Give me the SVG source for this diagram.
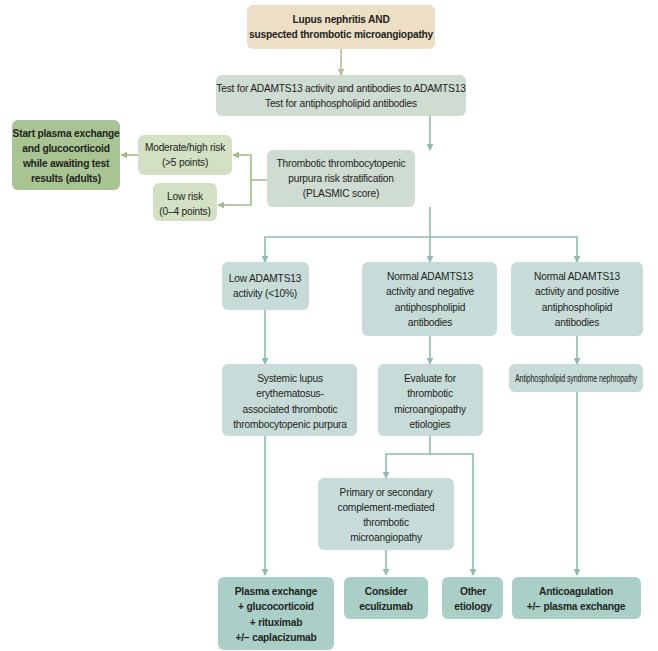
<svg xmlns="http://www.w3.org/2000/svg" width="658" height="651" viewBox="0 0 658 651">
<defs>
<style>
text{font-family:"Liberation Sans",Arial,sans-serif;font-size:10.2px;letter-spacing:-0.2px;fill:#231f20;text-anchor:middle}
.b{font-weight:bold}
.tan{fill:#ecdfc6}.grey{fill:#cfdcd2}.lg{fill:#d3e0c3}.dg{fill:#a9c493}.tl{fill:#c7dcd9}.td{fill:#a9cfc7}
.c{fill:none;stroke:#8dbdb3;stroke-width:1.6}
.cg{fill:none;stroke:#9dbd86;stroke-width:1.6}
.ct{fill:none;stroke:#c2b59c;stroke-width:1.6}
</style>
<marker id="a" viewBox="0 0 10 10" refX="9" refY="5" markerWidth="7" markerHeight="7" orient="auto" markerUnits="userSpaceOnUse"><path d="M0,0L10,5L0,10z" fill="#8dbdb3"/></marker>
<marker id="ag" viewBox="0 0 10 10" refX="9" refY="5" markerWidth="7" markerHeight="7" orient="auto" markerUnits="userSpaceOnUse"><path d="M0,0L10,5L0,10z" fill="#9dbd86"/></marker>
<marker id="at" viewBox="0 0 10 10" refX="9" refY="5" markerWidth="7" markerHeight="7" orient="auto" markerUnits="userSpaceOnUse"><path d="M0,0L10,5L0,10z" fill="#c2b59c"/></marker>
</defs>
<rect width="658" height="651" fill="#fff"/>
<g id="connectors">
<path class="ct" d="M341,49V75" marker-end="url(#at)"/>
<path class="c" d="M430,116V150" marker-end="url(#a)"/>
<path class="cg" d="M267,180H251V155H233" marker-end="url(#ag)"/>
<path class="cg" d="M251,180V205H218" marker-end="url(#ag)"/>
<path class="cg" d="M138,155H121" marker-end="url(#ag)"/>
<path class="c" d="M430,207V237H265V262" marker-end="url(#a)"/>
<path class="c" d="M430,237V262" marker-end="url(#a)"/>
<path class="c" d="M430,237H577V262" marker-end="url(#a)"/>
<path class="c" d="M265,310V364" marker-end="url(#a)"/>
<path class="c" d="M430,336V364" marker-end="url(#a)"/>
<path class="c" d="M577,336V364" marker-end="url(#a)"/>
<path class="c" d="M265,436V575" marker-end="url(#a)"/>
<path class="c" d="M430,436V454H386V478" marker-end="url(#a)"/>
<path class="c" d="M430,454H473V575" marker-end="url(#a)"/>
<path class="c" d="M386,550V575" marker-end="url(#a)"/>
<path class="c" d="M577,392V575" marker-end="url(#a)"/>
</g>
<g id="n1"><rect class="tan" x="247" y="5" width="188" height="44" rx="6"/><text class="b" x="341" y="23">Lupus nephritis AND</text><text class="b" x="341" y="38">suspected thrombotic microangiopathy</text></g>
<g id="n2"><rect class="grey" x="216" y="75" width="250" height="41" rx="6"/><text x="341" y="92">Test for ADAMTS13 activity and antibodies to ADAMTS13</text><text x="341" y="107">Test for antiphospholipid antibodies</text></g>
<g id="n3"><rect class="grey" x="267" y="150" width="148" height="57" rx="6"/><text x="341" y="167">Thrombotic thrombocytopenic</text><text x="341" y="182">purpura risk stratification</text><text x="341" y="197">(PLASMIC score)</text></g>
<g id="n4"><rect class="lg" x="138" y="135" width="94" height="40" rx="6"/><text x="185" y="151">Moderate/high risk</text><text x="185" y="166">(&gt;5 points)</text></g>
<g id="n5"><rect class="lg" x="153" y="183" width="64" height="38" rx="6"/><text x="185" y="200">Low risk</text><text x="185" y="215">(0–4 points)</text></g>
<g id="n6"><rect class="dg" x="12" y="120" width="108" height="70" rx="6"/><text class="b" x="66" y="137">Start plasma exchange</text><text class="b" x="66" y="152">and glucocorticoid</text><text class="b" x="66" y="167">while awaiting test</text><text class="b" x="66" y="182">results (adults)</text></g>
<g id="n7"><rect class="tl" x="222" y="262" width="87" height="48" rx="6"/><text x="265" y="282">Low ADAMTS13</text><text x="265" y="297">activity (&lt;10%)</text></g>
<g id="n8"><rect class="tl" x="362" y="262" width="135" height="74" rx="6"/><text x="430" y="280">Normal ADAMTS13</text><text x="430" y="295">activity and negative</text><text x="430" y="311">antiphospholipid</text><text x="430" y="326">antibodies</text></g>
<g id="n9"><rect class="tl" x="511" y="262" width="132" height="74" rx="6"/><text x="577" y="280">Normal ADAMTS13</text><text x="577" y="295">activity and positive</text><text x="577" y="311">antiphospholipid</text><text x="577" y="326">antibodies</text></g>
<g id="n10"><rect class="tl" x="222" y="364" width="135" height="72" rx="6"/><text x="290" y="382">Systemic lupus</text><text x="290" y="397">erythematosus-</text><text x="290" y="413">associated thrombotic</text><text x="290" y="428">thrombocytopenic purpura</text></g>
<g id="n11"><rect class="tl" x="378" y="364" width="105" height="72" rx="6"/><text x="430" y="382">Evaluate for</text><text x="430" y="397">thrombotic</text><text x="430" y="413">microangiopathy</text><text x="430" y="428">etiologies</text></g>
<g id="n12"><rect class="tl" x="509" y="364" width="134" height="28" rx="6"/><text x="576" y="382" textLength="122" lengthAdjust="spacingAndGlyphs">Antiphospholipid syndrome nephropathy</text></g>
<g id="n13"><rect class="tl" x="318" y="478" width="136" height="72" rx="6"/><text x="386" y="496">Primary or secondary</text><text x="386" y="511">complement-mediated</text><text x="386" y="526">thrombotic</text><text x="386" y="541">microangiopathy</text></g>
<g id="n14"><rect class="td" x="218" y="577" width="116" height="73" rx="6"/><text class="b" x="276" y="595">Plasma exchange</text><text class="b" x="276" y="610">+ glucocorticoid</text><text class="b" x="276" y="626">+ rituximab</text><text class="b" x="276" y="641">+/− caplacizumab</text></g>
<g id="n15"><rect class="td" x="344" y="577" width="84" height="42" rx="6"/><text class="b" x="386" y="595">Consider</text><text class="b" x="386" y="610">eculizumab</text></g>
<g id="n16"><rect class="td" x="442" y="577" width="61" height="42" rx="6"/><text class="b" x="473" y="595">Other</text><text class="b" x="473" y="610">etiology</text></g>
<g id="n17"><rect class="td" x="512" y="577" width="129" height="42" rx="6"/><text class="b" x="576" y="595">Anticoagulation</text><text class="b" x="576" y="610">+/− plasma exchange</text></g>
</svg>
